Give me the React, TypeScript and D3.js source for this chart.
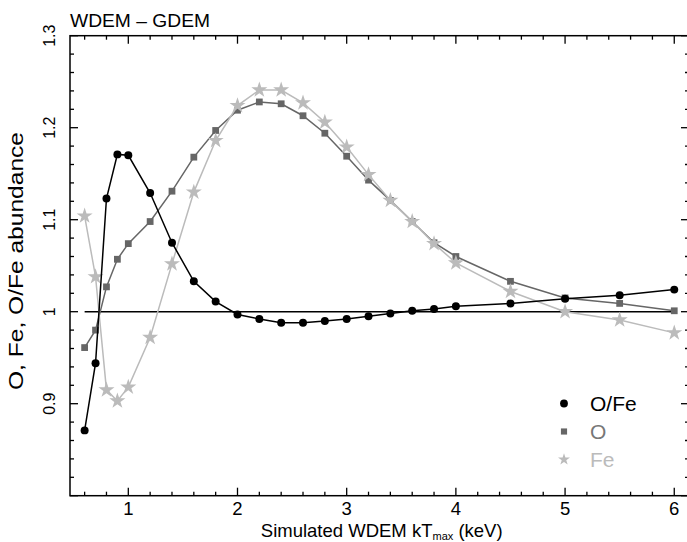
import React from "react";
import * as d3 from "d3";

const kT = [0.6, 0.7, 0.8, 0.9, 1.0, 1.2, 1.4, 1.6, 1.8, 2.0, 2.2, 2.4, 2.6, 2.8, 3.0, 3.2, 3.4, 3.6, 3.8, 4.0, 4.5, 5.0, 5.5, 6.0];
const oFe = [0.871, 0.944, 1.123, 1.171, 1.170, 1.129, 1.075, 1.033, 1.011, 0.997, 0.992, 0.988, 0.988, 0.990, 0.992, 0.995, 0.998, 1.001, 1.003, 1.006, 1.009, 1.014, 1.018, 1.024];
const oVals = [0.961, 0.980, 1.027, 1.057, 1.074, 1.098, 1.131, 1.168, 1.197, 1.219, 1.228, 1.226, 1.213, 1.194, 1.169, 1.143, 1.121, 1.098, 1.075, 1.060, 1.033, 1.015, 1.009, 1.001];
const feVals = [1.104, 1.038, 0.915, 0.903, 0.918, 0.972, 1.052, 1.130, 1.186, 1.224, 1.241, 1.241, 1.227, 1.206, 1.179, 1.149, 1.121, 1.098, 1.074, 1.053, 1.022, 1.000, 0.991, 0.977];

const xTickLabels = [1, 2, 3, 4, 5, 6];
const yTickLabels = [0.9, 1, 1.1, 1.2, 1.3];
const legendNames = ["O/Fe", "O", "Fe"];

const W = 687;
const H = 542;
const FONT = "'Liberation Sans', Arial, Helvetica, sans-serif";

export default function App() {
  const x = d3.scaleLinear().domain([0.466, 6.135]).range([70, 689]);
  const y = d3.scaleLinear().domain([0.8, 1.3]).range([495.7, 35.7]);
  const [x0, x1] = x.range();
  const [y0, y1] = y.range();

  const xMinor = d3.range(0.6, 6.1, 0.2).map((v) => +v.toFixed(2));
  const xMajorSet = new Set(xTickLabels);
  const yMinor = d3.range(0.8, 1.301, 0.02).map((v) => +v.toFixed(2));
  const yMajorSet = new Set([0.8, 0.9, 1, 1.1, 1.2, 1.3]);

  const line = d3
    .line<number>()
    .x((_, i) => x(kT[i]))
    .y((d) => y(d));

  const circle = d3.symbol().type(d3.symbolCircle).size(50)()!;
  const square = d3.symbol().type(d3.symbolSquare).size(46)()!;
  const star = d3.symbol().type(d3.symbolStar).size(80)()!;
  const circleL = d3.symbol().type(d3.symbolCircle).size(48)()!;
  const squareL = d3.symbol().type(d3.symbolSquare).size(38)()!;
  const starL = d3.symbol().type(d3.symbolStar).size(44)()!;

  const series = [
    { vals: oVals, color: "#666666", sym: square, width: 1.5 },
    { vals: feVals, color: "#bbbbbb", sym: star, width: 1.5 },
    { vals: oFe, color: "#000000", sym: circle, width: 1.5 },
  ];

  const legend = [
    { name: legendNames[0], sym: circleL, color: "#000000", text: "#000000" },
    { name: legendNames[1], sym: squareL, color: "#666666", text: "#777777" },
    { name: legendNames[2], sym: starL, color: "#bbbbbb", text: "#bbbbbb" },
  ];

  return (
    <div style={{ position: "absolute", left: 0, top: 0 }}>
      <svg width={W} height={H} style={{ display: "block", background: "#fff" }} fontFamily={FONT}>
        <line x1={x(0.6)} x2={x(6)} y1={y(1)} y2={y(1)} stroke="#000" strokeWidth={1.5} />

        {series.map((s, si) => (
          <g key={si}>
            <path d={line(s.vals) || ""} fill="none" stroke={s.color} strokeWidth={s.width} />
            {s.vals.map((v, i) => (
              <path key={i} d={s.sym} transform={`translate(${x(kT[i])},${y(v)})`} fill={s.color} />
            ))}
          </g>
        ))}

        <rect x={x0} y={y1} width={x1 - x0} height={y0 - y1} fill="none" stroke="#000" strokeWidth={1.5} />

        {xMinor.map((v) => {
          const len = xMajorSet.has(v) ? 8 : 4;
          return (
            <g key={"xt" + v}>
              <line x1={x(v)} x2={x(v)} y1={y0} y2={y0 - len} stroke="#000" strokeWidth={1.3} />
              <line x1={x(v)} x2={x(v)} y1={y1} y2={y1 + len} stroke="#000" strokeWidth={1.3} />
            </g>
          );
        })}
        {yMinor.map((v) => {
          const len = yMajorSet.has(v) ? 8 : 4;
          return (
            <g key={"yt" + v}>
              <line x1={x0} x2={x0 + len} y1={y(v)} y2={y(v)} stroke="#000" strokeWidth={1.3} />
              <line x1={x1} x2={x1 - len} y1={y(v)} y2={y(v)} stroke="#000" strokeWidth={1.3} />
            </g>
          );
        })}

        {xTickLabels.map((v) => (
          <text key={"xl" + v} x={x(v)} y={515} textAnchor="middle" fontSize={18.5}>
            {v}
          </text>
        ))}
        {yTickLabels.map((v) => (
          <text
            key={"yl" + v}
            transform={`translate(55,${y(v)}) rotate(-90)`}
            textAnchor="middle"
            fontSize={16}
          >
            {v}
          </text>
        ))}

        <text x={70} y={27} fontSize={18} textLength={140} lengthAdjust="spacingAndGlyphs">
          WDEM – GDEM
        </text>

        <text x={381.7} y={537} textAnchor="middle" fontSize={18.5}>
          Simulated WDEM kT
          <tspan fontSize={11} dy={3}>max</tspan>
          <tspan dy={-3}> (keV)</tspan>
        </text>
        <text
          transform={`translate(23,261) rotate(-90)`}
          textAnchor="middle"
          fontSize={19.5}
          textLength={258}
          lengthAdjust="spacingAndGlyphs"
        >
          O, Fe, O/Fe abundance
        </text>

        {legend.map((l, i) => (
          <g key={l.name} transform={`translate(0,${i * 28})`}>
            <path d={l.sym} transform={`translate(564,${403.5})`} fill={l.color} />
            <text x={590} y={410.5} fontSize={21} fill={l.text}>
              {l.name}
            </text>
          </g>
        ))}
      </svg>
    </div>
  );
}
